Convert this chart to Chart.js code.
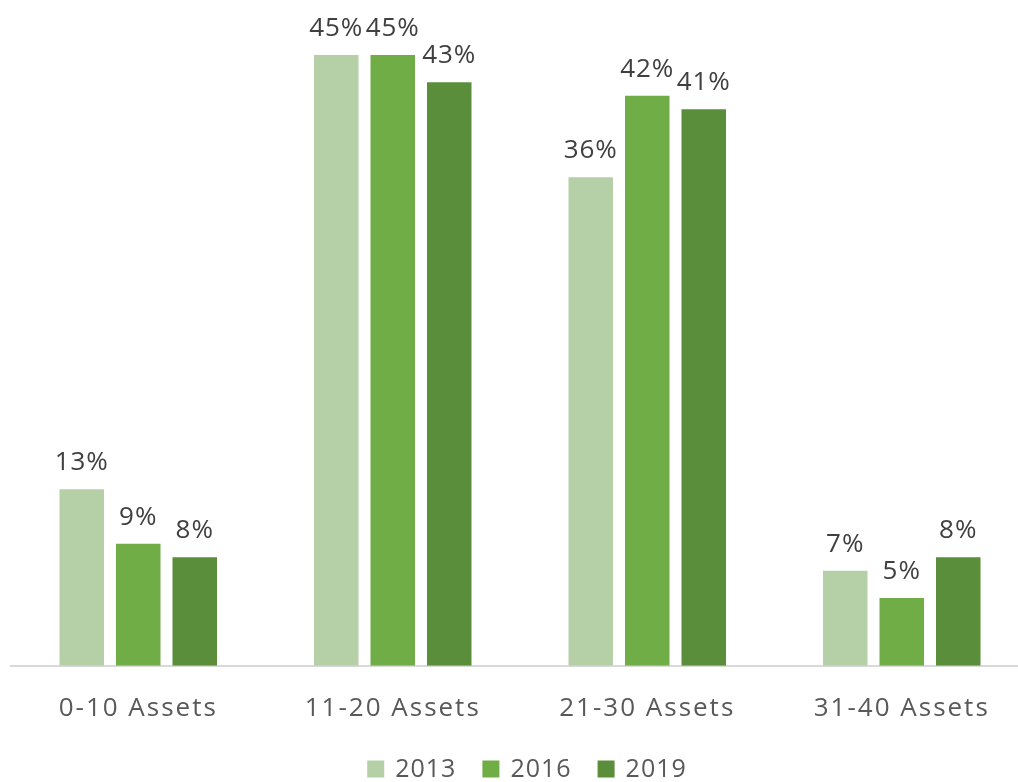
<!DOCTYPE html>
<html lang="en">
<head>
    <meta charset="UTF-8">
    <title>Assets by Group</title>
    <style>
        html, body {
            margin: 0;
            padding: 0;
            background: #ffffff;
            overflow: hidden;
        }
        .wrap {
            width: 1050px;
            height: 782px;
        }
    </style>
</head>
<body>
    <div class="wrap">
        <canvas id="assetChart" width="1050" height="782"></canvas>
    </div>

    <script src="https://cdn.jsdelivr.net/npm/chart.js"></script>
    <script>
        const categories = ['0-10 Assets', '11-20 Assets', '21-30 Assets', '31-40 Assets'];
        const years = ['2013', '2016', '2019'];
        const values2013 = [13, 45, 36, 7];
        const values2016 = [9, 45, 42, 5];
        const values2019 = [8, 43, 41, 8];
        const barColors = ['#b5cfa7', '#70ad47', '#5a8e3a'];

        const FONT = '"Open Sans", sans-serif';

        // wider tracking for the axis text
        const spacing = {
            id: 'spacing',
            beforeDraw(chart) {
                chart.ctx.letterSpacing = '2px';
            }
        };

        // percent labels above each bar
        const barLabels = {
            id: 'barLabels',
            afterDatasetsDraw(chart) {
                const ctx = chart.ctx;
                ctx.save();
                ctx.letterSpacing = '1px';
                ctx.font = '26px ' + FONT;
                ctx.fillStyle = '#404040';
                ctx.textAlign = 'center';
                ctx.textBaseline = 'alphabetic';
                chart.data.datasets.forEach((ds, i) => {
                    chart.getDatasetMeta(i).data.forEach((bar, j) => {
                        ctx.fillText(ds.data[j] + '%', bar.x, bar.y - 19);
                    });
                });
                ctx.restore();
            }
        };

        // legend row under the axis
        const bottomLegend = {
            id: 'bottomLegend',
            afterDraw(chart) {
                const ctx = chart.ctx;
                const box = 17, boxGap = 11, itemGap = 26, cy = 769;
                ctx.save();
                ctx.letterSpacing = '1px';
                ctx.font = '25px ' + FONT;
                ctx.textBaseline = 'middle';
                ctx.textAlign = 'left';
                const items = chart.data.datasets.map(ds => ({
                    text: ds.label,
                    color: ds.backgroundColor,
                    w: box + boxGap + ctx.measureText(ds.label).width
                }));
                const total = items.reduce((s, it) => s + it.w, 0) + itemGap * (items.length - 1);
                let x = 527 - total / 2;
                items.forEach(it => {
                    ctx.fillStyle = it.color;
                    ctx.fillRect(x, cy - box / 2, box, box);
                    ctx.fillStyle = '#595959';
                    ctx.fillText(it.text, x + box + boxGap, cy + 1);
                    x += it.w + itemGap;
                });
                ctx.restore();
            }
        };

        new Chart(document.getElementById('assetChart'), {
            type: 'bar',
            data: {
                labels: categories,
                datasets: [values2013, values2016, values2019].map((vals, i) => ({
                    label: years[i],
                    data: vals,
                    backgroundColor: barColors[i],
                    borderWidth: 0,
                    barPercentage: 0.788,
                    categoryPercentage: 0.666
                }))
            },
            options: {
                responsive: false,
                animation: false,
                layout: {
                    padding: { top: 55, left: 11, right: 21, bottom: 39 }
                },
                scales: {
                    x: {
                        grid: { display: false },
                        border: { color: '#d9d9d9', width: 2 },
                        ticks: {
                            color: '#595959',
                            font: { family: FONT, size: 26 },
                            padding: 19
                        }
                    },
                    y: {
                        display: false,
                        min: 0,
                        max: 45
                    }
                },
                plugins: {
                    legend: { display: false },
                    tooltip: { enabled: false }
                }
            },
            plugins: [spacing, barLabels, bottomLegend]
        });
    </script>
</body>
</html>
